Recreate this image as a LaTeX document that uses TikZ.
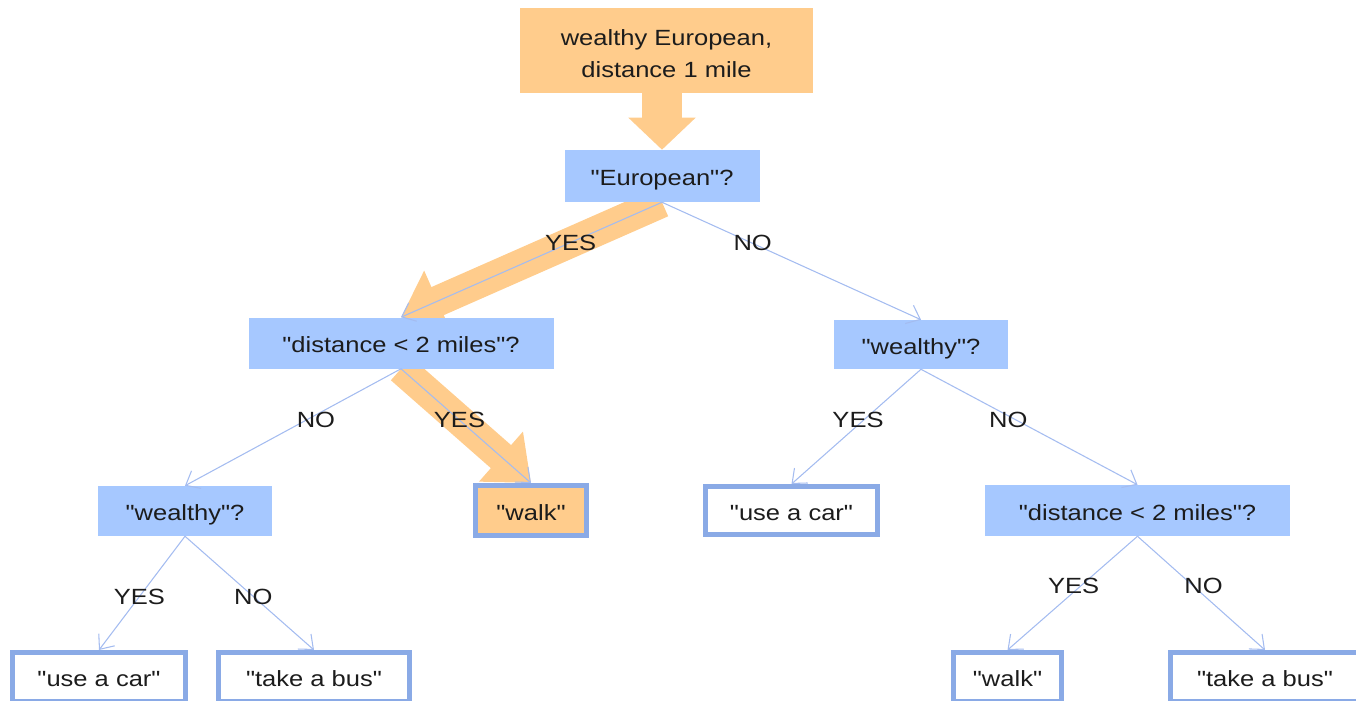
\documentclass[tikz,border=0pt]{standalone}
\usepackage{fontspec}
\setmainfont{Liberation Sans}[FakeStretch=1.16, Ligatures=TeXOff]
\usetikzlibrary{arrows.meta}
\pgfdeclarelayer{background}
\pgfsetlayers{background,main}
\definecolor{qfill}{HTML}{A6C8FF}
\definecolor{leafline}{HTML}{8AAAE6}
\definecolor{pathfill}{HTML}{FFCC8C}
\definecolor{edgeblue}{HTML}{A4BCF0}
\definecolor{txt}{HTML}{1C1C1C}
\tikzset{
  question/.style={fill=qfill, inner sep=0pt, text=txt, text height=14.5pt, text depth=0pt, font=\fontsize{16.5}{24}\selectfont},
  answer/.style={draw=leafline, line width=3.75pt, fill=white, inner sep=0pt, text=txt, text height=14.5pt, text depth=0pt, font=\fontsize{16.5}{24}\selectfont},
  edge/.style={draw=edgeblue, line width=0.8pt, -{Straight Barb[length=9pt,width=15pt]}},
  hot/.style={draw=pathfill, line width=23pt, -{Triangle[length=30pt,width=48pt]}},
  yn/.style={inner sep=1pt, text=txt, font=\fontsize{16.5}{24}\selectfont}
}
\begin{document}
\begin{tikzpicture}[x=0.75pt,y=0.75pt,yscale=-1,xscale=1]
\useasboundingbox (0,0) rectangle (1356,700);
\clip (0,0) rectangle (1356,700);

% input
\node [question, fill=pathfill, align=center, text height=40.3pt, text depth=0pt, minimum width=219.75pt, minimum height=63.75pt] (input) at (666.5,50.5) {wealthy European,\\distance 1 mile};

% questions
\node [question, minimum width=146.25pt, minimum height=39pt] (euro) at (662,176) {"European"?};
\node [question, minimum width=228.75pt, minimum height=38.25pt] (distL) at (401,343) {"distance < 2 miles"?};
\node [question, minimum width=130.5pt, minimum height=36.75pt] (richR) at (921,344.5) {"wealthy"?};
\node [question, minimum width=130.5pt, minimum height=37.5pt] (richL) at (185,511) {"wealthy"?};
\node [question, minimum width=228.75pt, minimum height=38.25pt] (distR) at (1137.5,510.5) {"distance < 2 miles"?};

% answers
\node [answer, fill=pathfill, minimum width=83.25pt, minimum height=37.5pt] (walkA) at (531,510.5) {"walk"};
\node [answer, minimum width=129pt, minimum height=36pt] (carA) at (791.5,510.5) {"use a car"};
\node [answer, minimum width=129.75pt, minimum height=36.75pt] (carB) at (99,677) {"use a car"};
\node [answer, minimum width=143.25pt, minimum height=36.75pt] (busA) at (314,677) {"take a bus"};
\node [answer, minimum width=81pt, minimum height=36.75pt] (walkB) at (1007.5,677) {"walk"};
\node [answer, minimum width=141.75pt, minimum height=36.75pt] (busB) at (1265,677) {"take a bus"};

% path taken
\begin{pgfonlayer}{background}
\draw [hot, line width=30pt, -{Triangle[length=24pt,width=49pt]}] (euro.north |- input.south) -- (euro.north);
\draw [hot] (euro.south) -- (distL.north);
\draw [hot] (distL.south) -- (walkA.north);
\end{pgfonlayer}

% branches
\draw [edge] (euro.south) -- (distL.north) node [yn, pos=.35] (y1) {YES};
\draw [edge] (euro.south) -- (richR.north) node [yn, pos=.35] (n1) {NO};
\draw [edge] (distL.south) -- (richL.north) node [yn, pos=.44, xshift=7.5pt] (n2) {NO};
\draw [edge] (distL.south) -- (walkA.north) node [yn, pos=.45] (y2) {YES};
\draw [edge] (richR.south) -- (carA.north) node [yn, pos=.44, xshift=-4.5pt] (y3) {YES};
\draw [edge] (richR.south) -- (distR.north) node [yn, pos=.44, xshift=-6pt] (n3) {NO};
\draw [edge] (richL.south) -- (carB.north) node [yn, pos=.53] (y4) {YES};
\draw [edge] (richL.south) -- (busA.north) node [yn, pos=.53] (n4) {NO};
\draw [edge] (distR.south) -- (walkB.north) node [yn, pos=.44, xshift=-5pt] (y5) {YES};
\draw [edge] (distR.south) -- (busB.north) node [yn, pos=.44, xshift=7.5pt] (n5) {NO};
\end{tikzpicture}
\end{document}
